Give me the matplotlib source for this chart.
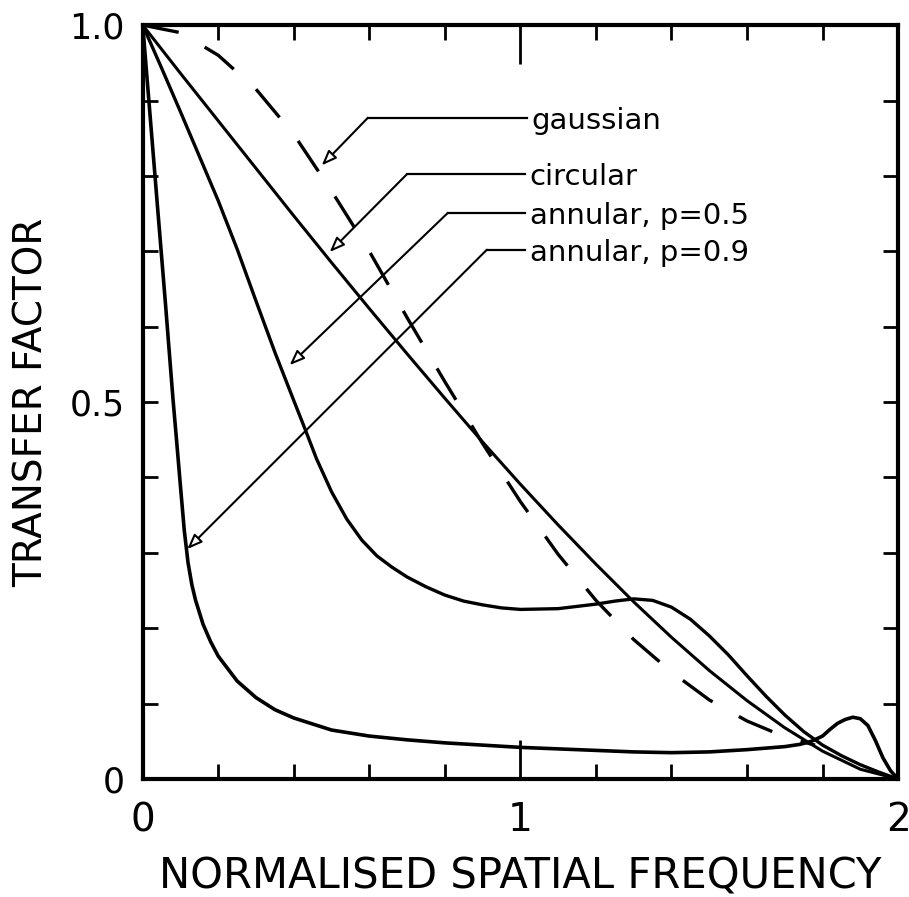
import matplotlib
matplotlib.use("Agg")
import matplotlib.pyplot as plt
from matplotlib.ticker import MultipleLocator

# normalised spatial frequency / transfer factor
circ_s = [0.0, 0.1, 0.2, 0.3, 0.4, 0.5, 0.6, 0.7, 0.8, 0.9, 1.0,
          1.1, 1.2, 1.3, 1.4, 1.5, 1.6, 1.7, 1.8, 1.9, 2.0]
circ_t = [1.0, 0.936, 0.873, 0.81, 0.747, 0.685, 0.624, 0.564, 0.505, 0.447, 0.391,
          0.337, 0.285, 0.235, 0.188, 0.144, 0.104, 0.068, 0.037, 0.013, 0.0]

gauss_s = [0.0, 0.1, 0.2, 0.3, 0.4, 0.5, 0.6, 0.7, 0.8, 0.9, 1.0,
           1.1, 1.2, 1.3, 1.4, 1.5, 1.6, 1.7, 1.78]
gauss_t = [1.0, 0.99, 0.96, 0.915, 0.855, 0.78, 0.70, 0.612, 0.527, 0.445, 0.368,
           0.298, 0.237, 0.185, 0.142, 0.105, 0.077, 0.056, 0.045]

ann5_s = [0.0, 0.05, 0.1, 0.15, 0.2, 0.25, 0.3, 0.35, 0.4, 0.43, 0.46, 0.5, 0.54,
          0.58, 0.62, 0.66, 0.7, 0.75, 0.8, 0.85, 0.9, 0.95, 1.0, 1.1, 1.2, 1.25,
          1.3, 1.35, 1.4, 1.45, 1.5, 1.55, 1.6, 1.65, 1.7, 1.75, 1.8, 1.85, 1.9,
          1.95, 2.0]
ann5_t = [1.0, 0.943, 0.885, 0.826, 0.767, 0.703, 0.634, 0.566, 0.502, 0.464, 0.425,
          0.381, 0.345, 0.317, 0.296, 0.281, 0.268, 0.255, 0.244, 0.236, 0.231, 0.227,
          0.225, 0.226, 0.232, 0.236, 0.239, 0.237, 0.228, 0.212, 0.19, 0.165, 0.137,
          0.11, 0.085, 0.063, 0.045, 0.031, 0.019, 0.009, 0.0]

ann9_s = [0.0, 0.02, 0.04, 0.06, 0.08, 0.09, 0.1, 0.11, 0.12, 0.13, 0.14, 0.16, 0.18,
          0.2, 0.25, 0.3, 0.35, 0.4, 0.5, 0.6, 0.7, 0.8, 0.9, 1.0, 1.1, 1.2, 1.3,
          1.4, 1.5, 1.6, 1.7, 1.74, 1.77, 1.8, 1.82, 1.84, 1.86, 1.88, 1.9, 1.92,
          1.94, 1.96, 1.98, 2.0]
ann9_t = [1.0, 0.877, 0.754, 0.632, 0.505, 0.447, 0.388, 0.330, 0.287, 0.258, 0.237,
          0.205, 0.182, 0.163, 0.13, 0.108, 0.092, 0.081, 0.065, 0.057, 0.052, 0.048,
          0.045, 0.042, 0.040, 0.038, 0.036, 0.035, 0.036, 0.039, 0.043, 0.046, 0.05,
          0.057, 0.066, 0.074, 0.079, 0.082, 0.080, 0.071, 0.051, 0.028, 0.011, 0.0]

# labels with leader arrows: text pos, elbow x, arrow tip
labels = ["gaussian", "circular", "annular, p=0.5", "annular, p=0.9"]
label_x = [1.03, 1.025, 1.025, 1.025]
label_y = [0.877, 0.802, 0.751, 0.702]
elbow_x = [0.596, 0.699, 0.808, 0.911]
tip_x = [0.474, 0.495, 0.389, 0.118]
tip_y = [0.814, 0.699, 0.549, 0.305]

fig = plt.figure(figsize=(9.09, 8.97), dpi=100)
ax = fig.add_axes([0.157, 0.1315, 0.831, 0.8405])

ax.plot(circ_s, circ_t, color="k", lw=2.2)
ax.plot(gauss_s, gauss_t, color="k", lw=2.4, dashes=(11, 9))
ax.plot(ann5_s, ann5_t, color="k", lw=2.4)
ax.plot(ann9_s, ann9_t, color="k", lw=2.6)

for lab, tx, ty, ex, px, py in zip(labels, label_x, label_y, elbow_x, tip_x, tip_y):
    ax.plot([ex, tx - 0.012], [ty, ty], color="k", lw=1.6)
    ax.annotate("", xy=(px, py), xytext=(ex, ty),
                arrowprops=dict(arrowstyle="-|>,head_length=0.9,head_width=0.35",
                                fc="white", ec="k", lw=1.5, shrinkA=0, shrinkB=0,
                                mutation_scale=10))
    ax.text(tx, ty, lab, ha="left", va="center_baseline", fontsize=21)

ax.set_xlim(0, 2)
ax.set_ylim(0, 1)
ax.set_xticks([0, 1, 2])
ax.set_xticklabels(["0", "1", "2"])
ax.set_yticks([0, 0.5, 1.0])
ax.set_yticklabels(["0", "0.5", "1.0"])
ax.xaxis.set_minor_locator(MultipleLocator(0.2))
ax.yaxis.set_minor_locator(MultipleLocator(0.1))
ax.tick_params(which="both", direction="in", top=True, right=True, width=2)
ax.tick_params(axis="x", which="major", length=28, pad=16, labelsize=28)
ax.tick_params(axis="y", which="major", length=11, pad=13, labelsize=25)
ax.tick_params(which="minor", length=11)
for sp in ax.spines.values():
    sp.set_linewidth(3)

ax.set_xlabel("NORMALISED SPATIAL FREQUENCY", fontsize=30, va="center")
ax.xaxis.set_label_coords(0.5, -0.129)
ax.set_ylabel("TRANSFER FACTOR", fontsize=28, va="center")
ax.yaxis.set_label_coords(-0.147, 0.5)

fig.savefig("out.png", dpi=100)
